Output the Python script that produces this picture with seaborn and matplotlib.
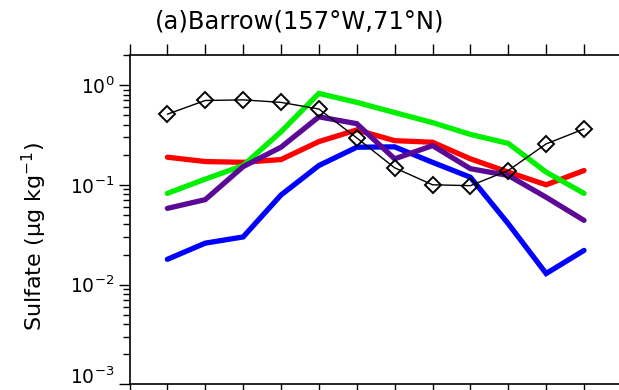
import numpy as np
import pandas as pd
import matplotlib
matplotlib.use("Agg")
import matplotlib.pyplot as plt
import matplotlib.transforms as mtransforms
from matplotlib.ticker import LogLocator, NullFormatter, FixedLocator
import seaborn as sns

sns.set_theme(style="white")
plt.rcParams["font.family"] = ["DejaVu Sans"]
plt.rcParams["mathtext.default"] = "regular"

# Monthly mean sulfate at Barrow (months 1-12)
months = list(range(1, 13))
observed = [0.51, 0.70, 0.71, 0.67, 0.575, 0.295, 0.148, 0.100, 0.098, 0.139, 0.257, 0.363]
model_blue = [0.0179, 0.026, 0.030, 0.079, 0.156, 0.238, 0.240, 0.168, 0.119, 0.0407, 0.0129, 0.022]
model_red = [0.189, 0.171, 0.168, 0.179, 0.271, 0.355, 0.277, 0.267, 0.182, 0.134, 0.100, 0.139]
model_green = [0.082, 0.114, 0.156, 0.34, 0.824, 0.67, 0.53, 0.42, 0.32, 0.26, 0.134, 0.082]
model_purple = [0.058, 0.071, 0.152, 0.238, 0.48, 0.41, 0.182, 0.247, 0.145, 0.124, 0.075, 0.044]

series_names = ["blue", "red", "green", "purple"]
series_values = [model_blue, model_red, model_green, model_purple]
series_colors = {"blue": "#0000FF", "red": "#FF0000", "green": "#00F000", "purple": "#5A0A96"}

models = pd.DataFrame(
    [(m, name, v) for name, vals in zip(series_names, series_values) for m, v in zip(months, vals)],
    columns=["month", "run", "sulfate"],
)
obs = pd.DataFrame({"month": months, "sulfate": observed})

fig = plt.figure(figsize=(6.19, 3.90), dpi=100)
ax = fig.add_axes([129.5 / 619, 1 - 384.3 / 390, 492.4 / 619, 329.3 / 390])

sns.lineplot(data=models, x="month", y="sulfate", hue="run", palette=series_colors,
             hue_order=series_names, linewidth=3.8, legend=False, ax=ax,
             solid_joinstyle="miter")
sns.lineplot(data=obs, x="month", y="sulfate", color="black", linewidth=1.0,
             marker="D", markersize=8, markerfacecolor="none", markeredgecolor="black",
             markeredgewidth=1.4, legend=False, ax=ax, zorder=5)

ax.set_yscale("log")
ax.set_ylim(1e-3, 2.0)
ax.set_xlim(0, 13)

ax.yaxis.set_major_locator(LogLocator(base=10, numticks=10))
ax.yaxis.set_minor_locator(LogLocator(base=10, subs=np.arange(2, 10), numticks=10))
ax.yaxis.set_minor_formatter(NullFormatter())
ax.xaxis.set_major_locator(FixedLocator(list(range(0, 14))))
ax.set_xticklabels([])

ax.tick_params(axis="y", which="major", direction="out", length=8, width=1.0,
               labelsize=13.5, pad=3, left=True, right=False, color="black", labelcolor="black")
ax.tick_params(axis="y", which="minor", direction="out", length=5, width=1.0,
               left=True, right=False, color="black")
ax.tick_params(axis="x", which="major", direction="out", length=8, width=1.0,
               top=True, bottom=True, color="black")

for side in ["left", "top", "bottom"]:
    ax.spines[side].set_visible(True)
    ax.spines[side].set_color("black")
    ax.spines[side].set_linewidth(1.2)
ax.spines["right"].set_visible(False)

# lift the lowest decade label so it sits inside the figure
fig.canvas.draw()
for lbl in ax.get_yticklabels():
    if abs(lbl.get_position()[1] - 1e-3) < 1e-9:
        lbl.set_transform(lbl.get_transform() + mtransforms.ScaledTranslation(0, 9 / 100, fig.dpi_scale_trans))

ax.set_xlabel("")
ax.set_ylabel("")
fig.text(34 / 619, 1 - 237 / 390, r"Sulfate ($\mu$g kg$^{-1}$)", rotation=90,
         ha="center", va="center", fontsize=16, color="black")
fig.text(300 / 619, 1 - 21 / 390, "(a)Barrow(157°W,71°N)", ha="center", va="center",
         fontsize=17.5, color="black")

fig.savefig("out.png", dpi=100)
